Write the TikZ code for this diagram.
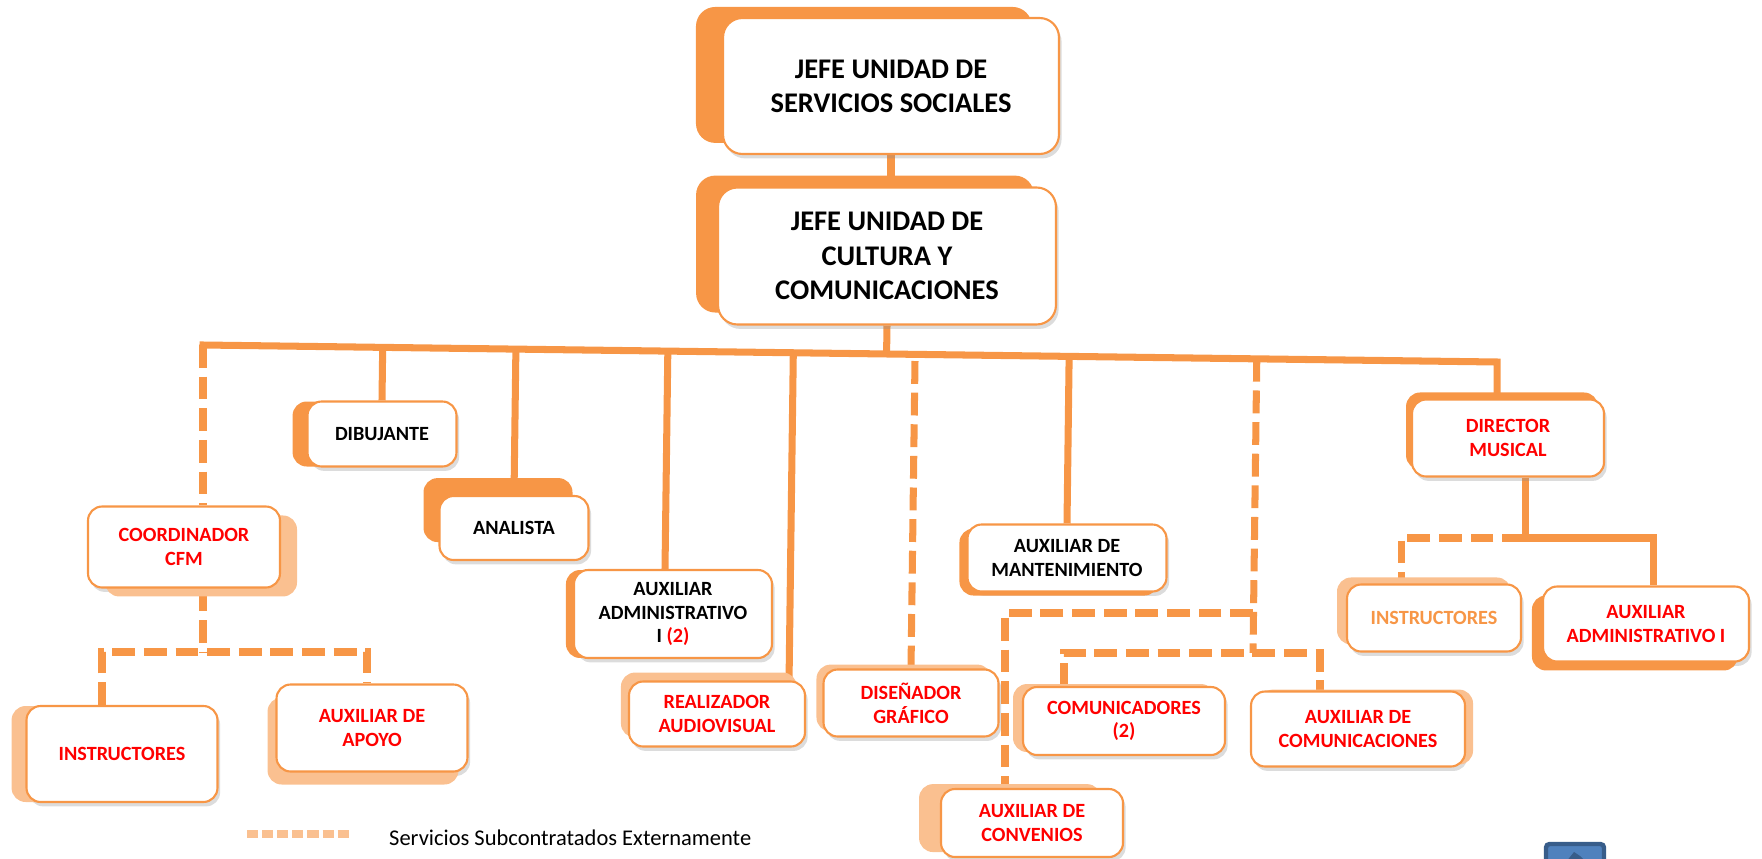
\documentclass[tikz,border=0pt]{standalone}
\usepackage{fontspec}
\setmainfont{Carlito}
\usetikzlibrary{calc,shadows}
\definecolor{naranja}{HTML}{F79646}
\definecolor{naranjaclaro}{HTML}{FAC090}
\definecolor{rojo}{HTML}{FF0000}
\definecolor{azul}{HTML}{4F81BD}
\definecolor{azulosc}{HTML}{385D8A}
\pgfdeclarelayer{lineas}
\pgfsetlayers{lineas,main}

\begin{document}
\begin{tikzpicture}[x=0.02cm,y=-0.02cm]
\tikzset{
  cargo/.style={rectangle,rounded corners=8pt,draw=naranja,line width=1.2pt,fill=white,
    align=center,inner sep=0pt,font=\fontsize{11.5}{13.5}\selectfont\bfseries},
  jefe/.style={cargo,rounded corners=11pt,font=\fontsize{16.2}{19.5}\selectfont\bfseries},
  respaldo/.style n args={3}{drop shadow={shadow xshift=1.5pt,shadow yshift=-2.5pt,
      opacity=.3,fill=black!45},
    general shadow={shadow xshift=#1,shadow yshift=#2,fill=#3,draw=none}},
  linea/.style={draw=naranja,line width=4pt},
  externo/.style={linea,dash pattern=on 13pt off 5pt},
  muestra/.style={draw=naranjaclaro,line width=4.5pt,dash pattern=on 6.3pt off 2.3pt}
}
\useasboundingbox (0,0) rectangle (1762,859);

\node (jefeSS) [jefe,respaldo={-15.4pt}{6.3pt}{naranja},minimum width=6.72cm,minimum height=2.72cm]
  at (891,86) {JEFE UNIDAD DE\\SERVICIOS SOCIALES};
\node (jefeCC) [jefe,respaldo={-12.5pt}{6.8pt}{naranja},minimum width=6.76cm,minimum height=2.74cm]
  at (887,256) {JEFE UNIDAD DE\\CULTURA Y\\COMUNICACIONES};

\node (dibujante) [cargo,respaldo={-8.5pt}{0pt}{naranja},minimum width=2.98cm,minimum height=1.3cm]
  at (382,434) {DIBUJANTE};
\node (analista) [cargo,respaldo={-9.1pt}{10.2pt}{naranja},minimum width=2.98cm,minimum height=1.28cm]
  at (514,528) {ANALISTA};
\node (coordinador) [cargo,respaldo={9.7pt}{-5.1pt}{naranjaclaro},text=rojo,minimum width=3.84cm,minimum height=1.62cm]
  at (184,547) {COORDINADOR\\CFM};
\node (instrA) [cargo,respaldo={-8.5pt}{0pt}{naranjaclaro},text=rojo,minimum width=3.82cm,minimum height=1.92cm]
  at (122,754) {INSTRUCTORES};
\node (apoyo) [cargo,respaldo={-5.1pt}{-7.4pt}{naranjaclaro},text=rojo,minimum width=3.82cm,minimum height=1.74cm]
  at (372,728) {AUXILIAR DE\\APOYO};
\node (auxAdm) [cargo,respaldo={-4.6pt}{0pt}{naranja},minimum width=3.96cm,minimum height=1.76cm]
  at (673,614) {AUXILIAR\\ADMINISTRATIVO\\I {\color{rojo}(2)}};
\node (realizador) [cargo,respaldo={-4.6pt}{5.1pt}{naranjaclaro},text=rojo,minimum width=3.52cm,minimum height=1.3cm]
  at (717,714) {REALIZADOR\\AUDIOVISUAL};
\node (disenador) [cargo,respaldo={-4pt}{2.8pt}{naranjaclaro},text=rojo,minimum width=3.5cm,minimum height=1.34cm]
  at (911,703) {DISEÑADOR\\GRÁFICO};
\node (mantenimiento) [cargo,respaldo={-4.6pt}{-2.3pt}{naranja},minimum width=3.98cm,minimum height=1.34cm]
  at (1067,558) {AUXILIAR DE\\MANTENIMIENTO};
\node (comunicadores) [cargo,respaldo={-5.7pt}{1.7pt}{naranjaclaro},text=rojo,minimum width=4.04cm,minimum height=1.36cm]
  at (1124,721) {COMUNICADORES\\(2)};
\node (auxCom) [cargo,respaldo={4.6pt}{1.1pt}{naranjaclaro},text=rojo,minimum width=4.28cm,minimum height=1.5cm]
  at (1358,729) {AUXILIAR DE\\COMUNICACIONES};
\node (convenios) [cargo,respaldo={-12.5pt}{2.8pt}{naranjaclaro},text=rojo,minimum width=3.64cm,minimum height=1.36cm]
  at (1032,823) {AUXILIAR DE\\CONVENIOS};
\node (director) [cargo,respaldo={-3.4pt}{4pt}{naranja},text=rojo,minimum width=3.84cm,minimum height=1.54cm]
  at (1508,438) {DIRECTOR\\MUSICAL};
\node (instrB) [cargo,respaldo={-5.7pt}{4pt}{naranjaclaro},text=naranja,minimum width=3.48cm,minimum height=1.34cm]
  at (1434,618) {INSTRUCTORES};
\node (auxAdmB) [cargo,respaldo={-6.3pt}{-5.1pt}{naranja},text=rojo,minimum width=4.12cm,minimum height=1.5cm]
  at (1646,624) {AUXILIAR\\ADMINISTRATIVO I};

\coordinate (muestra) at (247,834);
\draw[muestra] (muestra) -- ++(104,0);
\node (leyenda) [anchor=west,font=\fontsize{12.8}{15}\selectfont] at (383,838)
  {Servicios Subcontratados Externamente};

\draw[draw=azulosc,fill=azul,line width=2.5pt,rounded corners=2pt]
  (1546,862) -- (1546,844) -- (1604,844) -- (1604,862);
\fill[azulosc] (1566,862) -- (1574,852) -- (1580,856) -- (1586,862);

\begin{pgfonlayer}{lineas}
\coordinate (busL) at (203,345);
\coordinate (busR) at (1497,362);
\draw[linea] (jefeSS.south) -- (jefeSS.south |- jefeCC.north);
\draw[linea] (jefeCC.south) -- ($(busL)!(jefeCC.south)!(busR)$);
\draw[linea,line cap=rect] (busL) -- (busR) -- (director.north -| busR);

\coordinate (pAdm) at ([xshift=-0.16cm]auxAdm.north);
\coordinate (pReal) at ([xshift=-0.34cm]realizador.north east);
\draw[linea] (dibujante.north) -- ($(busL)!(dibujante.north)!(busR)$);
\draw[linea] (analista.north) -- ($(busL)!(analista.north)!(busR)$);
\draw[linea] (pAdm) -- ($(busL)!(pAdm)!(busR)$);
\draw[linea] (pReal) -- ($(busL)!(pReal)!(busR)$);
\draw[linea] (mantenimiento.north) -- ($(busL)!(mantenimiento.north)!(busR)$);
\draw[externo] (disenador.north) -- ($(busL)!(disenador.north)!(busR)$);

\coordinate (cfm) at (203,652);
\coordinate (cfmL) at (102,652);
\coordinate (cfmR) at (367,652);
\draw[externo] (busL) -- (coordinador.north -| busL);
\draw[externo] (coordinador.south -| cfm) -- (cfm);
\draw[externo] (instrA.north -| cfmL) -- (cfmL) -- (cfmR) -- (apoyo.north -| cfmR);

\coordinate (com) at (1253,653);
\coordinate (conv) at (1005,613);
\coordinate (comL) at (1064,653);
\coordinate (comR) at (1320,653);
\draw[externo] ($(busL)!(com)!(busR)$) -- (com);
\draw[externo] (com |- conv) -- (conv) -- (convenios.north -| conv);
\draw[externo] (comunicadores.north -| comL) -- (comL) -- (comR) -- (auxCom.north -| comR);

\coordinate (dirM) at (1525,538);
\coordinate (dirL) at (1401,538);
\coordinate (dirR) at (1653,538);
\draw[linea] (director.south -| dirM) -- (dirM) -- (dirR) -- (auxAdmB.north -| dirR);
\draw[externo] (dirM) -- (dirL) -- (instrB.north -| dirL);
\end{pgfonlayer}
\end{tikzpicture}
\end{document}
